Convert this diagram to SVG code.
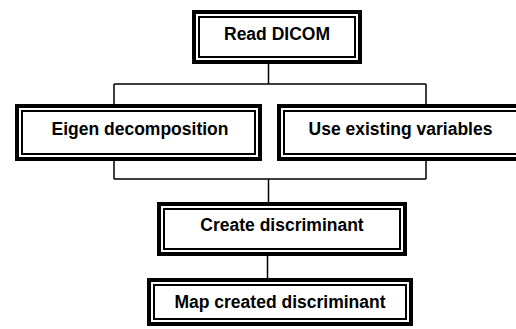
<svg xmlns="http://www.w3.org/2000/svg" width="516" height="329" viewBox="0 0 516 329">
  <defs>
    <style>
      .frame { fill: #ffffff; stroke: #000000; stroke-width: 4; }
      .rule { fill: none; stroke: #000000; stroke-width: 2; }
      .label { font-family: "Liberation Sans", Arial, sans-serif; font-weight: bold; font-size: 17.5px; fill: #000000; text-anchor: middle; }
      .wire { fill: none; stroke: #000000; stroke-width: 1.5; }
    </style>
  </defs>
  <rect width="516" height="329" fill="#ffffff"/>

  <!-- connectors -->
  <g id="connectors">
    <path class="wire" d="M268.5 64 V84 M114 84 H426 M114 84 V104 M426 84 V104"/>
    <path class="wire" d="M114 161 V179 M426 161 V179 M114 179 H426 M268.5 179 V202"/>
    <path class="wire" d="M267.5 256 V278"/>
  </g>

  <!-- nodes: double-ruled boxes -->
  <g id="read-dicom">
    <rect class="frame" x="194" y="12" width="166" height="50"/>
    <rect class="rule" x="199" y="17" width="156" height="40"/>
    <text class="label" x="277" y="39.5">Read DICOM</text>
  </g>

  <g id="eigen-decomposition">
    <rect class="frame" x="17" y="106" width="243" height="53"/>
    <rect class="rule" x="22" y="111" width="233" height="43"/>
    <text class="label" x="140" y="135">Eigen decomposition</text>
  </g>

  <g id="use-existing-variables">
    <rect class="frame" x="279" y="106" width="243" height="53"/>
    <rect class="rule" x="284" y="111" width="233" height="43"/>
    <text class="label" x="400.5" y="135">Use existing variables</text>
  </g>

  <g id="create-discriminant">
    <rect class="frame" x="159" y="204" width="246" height="50"/>
    <rect class="rule" x="164" y="209" width="236" height="40"/>
    <text class="label" x="282" y="231">Create discriminant</text>
  </g>

  <g id="map-created-discriminant">
    <rect class="frame" x="149" y="280" width="262" height="44"/>
    <rect class="rule" x="154" y="285" width="252" height="34"/>
    <text class="label" x="280" y="308">Map created discriminant</text>
  </g>
</svg>
